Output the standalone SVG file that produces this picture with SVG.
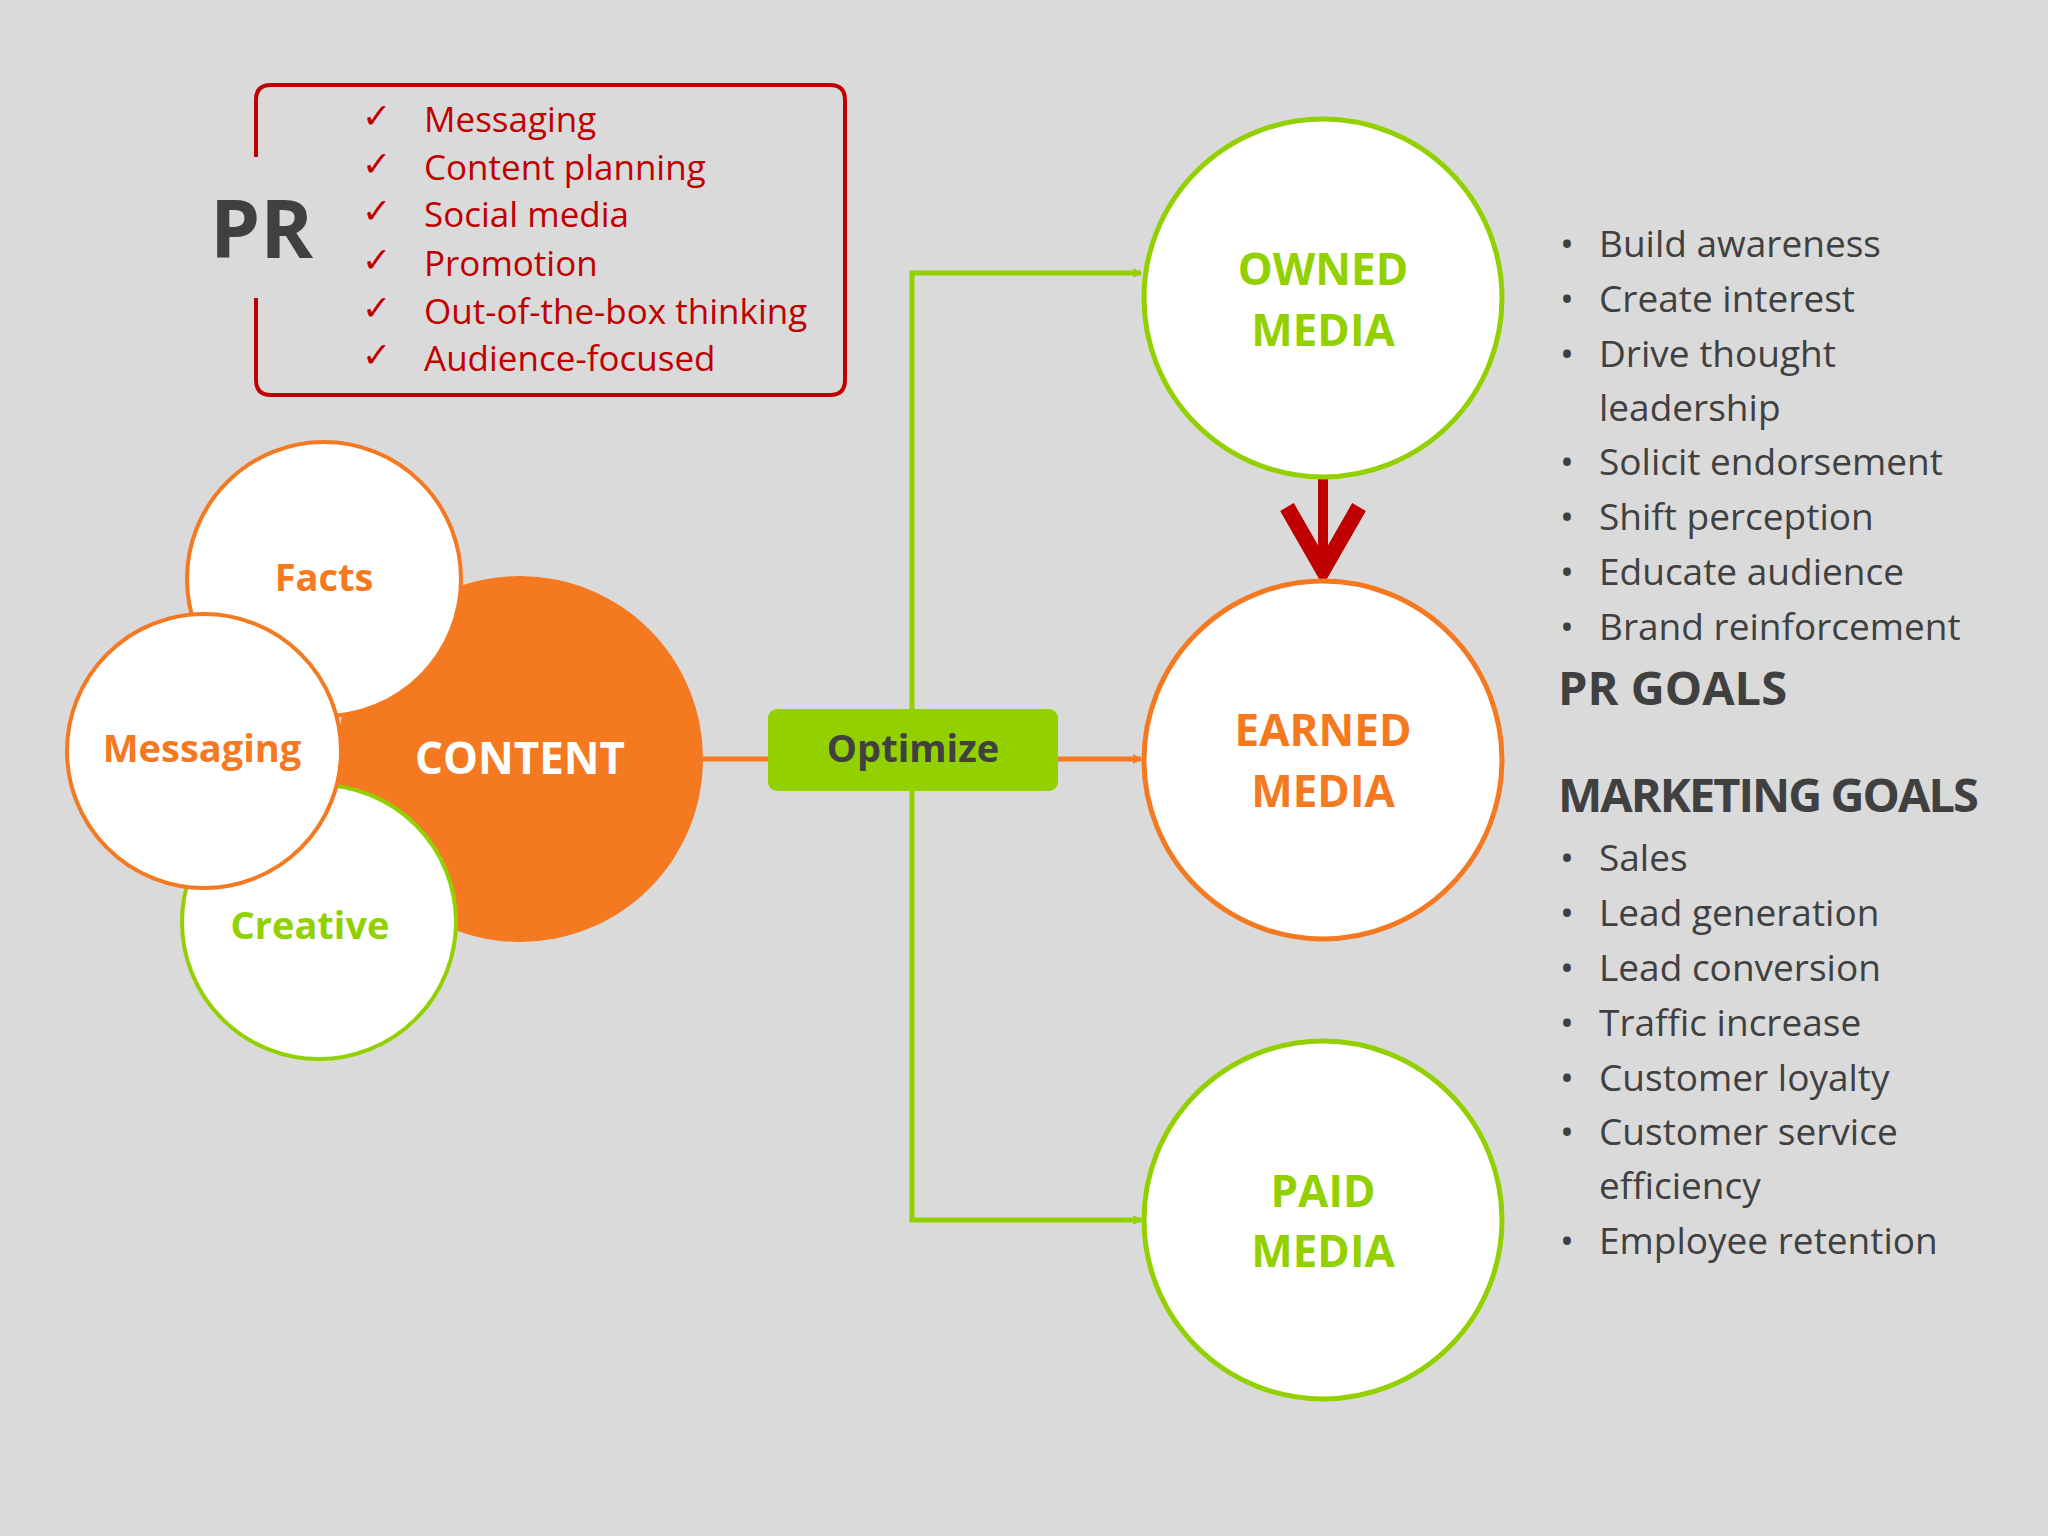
<svg xmlns="http://www.w3.org/2000/svg" width="2048" height="1536" viewBox="0 0 2048 1536">
<style>
text{font-family:"Open Sans","Liberation Sans",sans-serif}
.chk{fill:#c00000;font-size:35px}
.li{fill:#404040;font-size:37px}
.hd{fill:#404040;font-size:47px;font-weight:bold}
.mt{font-size:44px;font-weight:bold;text-anchor:middle}
.sub{font-size:38px;font-weight:bold;text-anchor:middle}
</style>
<defs>
<marker id="ag" viewBox="0 0 20 20" refX="18" refY="10" markerWidth="10" markerHeight="10" markerUnits="userSpaceOnUse" orient="auto"><path d="M2,2 L18,10 L2,18" fill="none" stroke="#92d000" stroke-width="3"/></marker>
<marker id="ao" viewBox="0 0 20 20" refX="18" refY="10" markerWidth="10" markerHeight="10" markerUnits="userSpaceOnUse" orient="auto"><path d="M2,2 L18,10 L2,18" fill="none" stroke="#f47920" stroke-width="3"/></marker>
<marker id="ar" viewBox="0 0 20 20" refX="16" refY="10" markerWidth="9" markerHeight="9" orient="auto"><path d="M2,2 L16,10 L2,18" fill="none" stroke="#c00000" stroke-width="3.5"/></marker>
</defs>
<rect width="2048" height="1536" fill="#dadada"/>
<g id="pr">
<path d="M256,157 V100 Q256,85 271,85 H830 Q845,85 845,100 V380 Q845,395 830,395 H271 Q256,395 256,380 V298" fill="none" stroke="#c00000" stroke-width="4"/>
<text x="210" y="258" font-size="80" font-weight="bold" fill="#404040">PR</text>
<g class="chk">
<text x="362" y="128">✓</text><text x="424" y="132">Messaging</text>
<text x="362" y="176">✓</text><text x="424" y="180">Content planning</text>
<text x="362" y="223">✓</text><text x="424" y="227">Social media</text>
<text x="362" y="272">✓</text><text x="424" y="276">Promotion</text>
<text x="362" y="320">✓</text><text x="424" y="324">Out-of-the-box thinking</text>
<text x="362" y="367">✓</text><text x="424" y="371">Audience-focused</text>
</g>
</g>
<g id="connectors" fill="none" stroke-width="5">
<path d="M703,759 H768" stroke="#f47920"/>
<path d="M1058,759 H1141" stroke="#f47920" marker-end="url(#ao)"/>
<path d="M912,709 V273 H1141" stroke="#92d000" marker-end="url(#ag)"/>
<path d="M912,791 V1220 H1141" stroke="#92d000" marker-end="url(#ag)"/>
<path d="M1323,478 V570" stroke="#c00000" stroke-width="10" marker-end="url(#ar)"/>
</g>
<g id="content"><circle cx="520" cy="759" r="183" fill="#f47920"/><text x="520" y="774" class="mt" fill="#fff" font-size="42">CONTENT</text></g>
<g id="facts"><circle cx="324" cy="579" r="137" fill="#fff" stroke="#f47920" stroke-width="4"/><text x="324" y="591" class="sub" fill="#f47920">Facts</text></g>
<g id="creative"><circle cx="319" cy="922" r="137" fill="#fff" stroke="#92d000" stroke-width="4"/><text x="310" y="939" class="sub" fill="#92d000">Creative</text></g>
<g id="messaging"><circle cx="204" cy="751" r="137" fill="#fff" stroke="#f47920" stroke-width="4"/><text x="202" y="762" class="sub" fill="#f47920">Messaging</text></g>
<g id="optimize"><rect x="768" y="709" width="290" height="82" rx="9" fill="#92d000"/><text x="913" y="762" class="sub" fill="#404040">Optimize</text></g>
<g id="owned"><circle cx="1323" cy="298" r="179" fill="#fff" stroke="#92d000" stroke-width="5"/><text class="mt" fill="#92d000"><tspan x="1323" y="285">OWNED</tspan><tspan x="1323" y="346">MEDIA</tspan></text></g>
<g id="earned"><circle cx="1323" cy="760" r="179" fill="#fff" stroke="#f47920" stroke-width="5"/><text class="mt" fill="#f47920"><tspan x="1323" y="746">EARNED</tspan><tspan x="1323" y="807">MEDIA</tspan></text></g>
<g id="paid"><circle cx="1323" cy="1220" r="179" fill="#fff" stroke="#92d000" stroke-width="5"/><text class="mt" fill="#92d000"><tspan x="1323" y="1207">PAID</tspan><tspan x="1323" y="1267">MEDIA</tspan></text></g>
<g id="goals" class="li">
<text x="1560" y="257">•</text><text x="1599" y="257">Build awareness</text>
<text x="1560" y="312">•</text><text x="1599" y="312">Create interest</text>
<text x="1560" y="367">•</text><text x="1599" y="367">Drive thought</text>
<text x="1599" y="421">leadership</text>
<text x="1560" y="475">•</text><text x="1599" y="475">Solicit endorsement</text>
<text x="1560" y="530">•</text><text x="1599" y="530">Shift perception</text>
<text x="1560" y="585">•</text><text x="1599" y="585">Educate audience</text>
<text x="1560" y="640">•</text><text x="1599" y="640">Brand reinforcement</text>
<text x="1558" y="705" class="hd">PR GOALS</text>
<text x="1558" y="812" class="hd" letter-spacing="-2">MARKETING GOALS</text>
<text x="1560" y="871">•</text><text x="1599" y="871">Sales</text>
<text x="1560" y="926">•</text><text x="1599" y="926">Lead generation</text>
<text x="1560" y="981">•</text><text x="1599" y="981">Lead conversion</text>
<text x="1560" y="1036">•</text><text x="1599" y="1036">Traffic increase</text>
<text x="1560" y="1091">•</text><text x="1599" y="1091">Customer loyalty</text>
<text x="1560" y="1145">•</text><text x="1599" y="1145">Customer service</text>
<text x="1599" y="1199">efficiency</text>
<text x="1560" y="1254">•</text><text x="1599" y="1254">Employee retention</text>
</g>
</svg>
